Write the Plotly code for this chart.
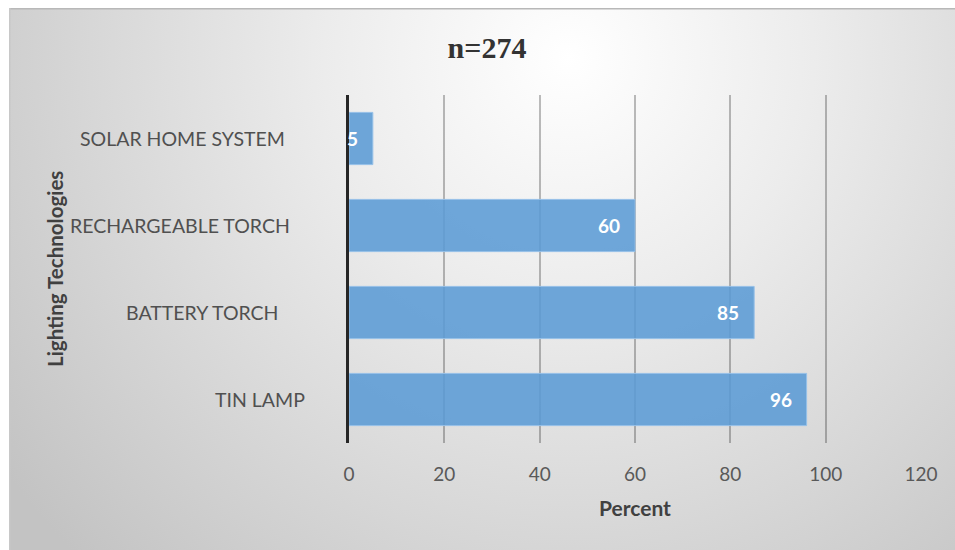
import base64
import plotly.graph_objects as go

# Survey results: share of households using each lighting technology
categories = ["SOLAR HOME SYSTEM", "RECHARGEABLE TORCH", "BATTERY TORCH", "TIN LAMP"]
percent = [5, 60, 85, 96]
x_ticks = [0, 20, 40, 60, 80, 100, 120]
sample_title = "n=274"

# Horizontal gap (px) between the plot edge and each category label
label_gap = [62, 57, 68, 42]

W, H = 955, 550
L, R, T, B = 349, 34, 95, 107
pw, ph = W - L - R, H - T - B

# Soft radial backdrop behind the whole chart
bg_w, bg_h = W - 9, H - 8
svg = (
    f'<svg xmlns="http://www.w3.org/2000/svg" width="{bg_w}" height="{bg_h}" '
    f'viewBox="0 0 {bg_w} {bg_h}" preserveAspectRatio="none">'
    '<defs><radialGradient id="g" gradientUnits="userSpaceOnUse" cx="560" cy="50" r="700">'
    '<stop offset="0" stop-color="#ffffff"/>'
    '<stop offset="0.35" stop-color="#ececec"/>'
    '<stop offset="0.7" stop-color="#d6d6d6"/>'
    '<stop offset="1" stop-color="#c3c3c3"/>'
    '</radialGradient></defs>'
    f'<rect width="{bg_w}" height="{bg_h}" fill="url(#g)"/>'
    f'<line x1="0" y1="0.75" x2="{bg_w}" y2="0.75" stroke="#b8b8b8" stroke-width="1.5"/>'
    f'<line x1="0.75" y1="0" x2="0.75" y2="{bg_h}" stroke="#c8c8c8" stroke-width="1.5"/>'
    '</svg>'
)
bg_uri = "data:image/svg+xml;base64," + base64.b64encode(svg.encode()).decode()

fig = go.Figure(
    go.Bar(
        x=percent,
        y=categories,
        orientation="h",
        marker=dict(color="rgba(91,155,213,0.88)",
                    line=dict(color="rgba(150,192,232,1)", width=1)),
        width=0.6,
        hoverinfo="skip",
    )
)

# Value labels at the inner end of each bar
for cat, val in zip(categories, percent):
    fig.add_annotation(
        x=val, y=cat, xref="x", yref="y", text=f"<b>{val}</b>",
        showarrow=False, xanchor="right", yanchor="middle", xshift=-13,
        font=dict(family="Lato", size=19, color="white"),
    )

# Category labels left of the axis
for cat, gap in zip(categories, label_gap):
    fig.add_annotation(
        x=0, y=cat, xref="paper", yref="y", text=cat,
        showarrow=False, xanchor="right", yanchor="middle", xshift=-gap,
        font=dict(family="Lato", size=19.5, color="#505050"),
    )

# Axis titles
fig.add_annotation(
    x=(55 - L) / pw, y=0.5, xref="paper", yref="paper",
    text="<b>Lighting Technologies</b>", textangle=-90, showarrow=False,
    xanchor="center", yanchor="middle",
    font=dict(family="Lato", size=20.5, color="#404040"),
)
fig.add_annotation(
    x=0.5, y=(H - B - 507) / ph, xref="paper", yref="paper",
    text="<b>Percent</b>", showarrow=False,
    xanchor="center", yanchor="middle",
    font=dict(family="Lato", size=21, color="#404040"),
)

fig.add_layout_image(
    source=bg_uri, xref="paper", yref="paper",
    x=(9 - L) / pw, y=(H - B - 8) / ph,
    sizex=bg_w / pw, sizey=bg_h / ph,
    xanchor="left", yanchor="top", sizing="stretch", layer="below",
)

fig.update_layout(
    width=W, height=H,
    margin=dict(l=L, r=R, t=T, b=B, pad=0),
    paper_bgcolor="white",
    plot_bgcolor="rgba(0,0,0,0)",
    showlegend=False,
    title=dict(
        text=f"<b>{sample_title}</b>", x=487 / W, xref="container", xanchor="center",
        y=1 - 47 / H, yref="container", yanchor="middle",
        font=dict(family="Liberation Serif", size=30, color="#333333"),
    ),
    xaxis=dict(
        range=[0, 120], tickvals=x_ticks, ticktext=[str(v) for v in x_ticks],
        showgrid=True, gridcolor="rgba(0,0,0,0.26)", gridwidth=1.5,
        zeroline=False, showline=False, ticks="",
        ticklabelstandoff=18,
        tickfont=dict(family="Lato", size=19, color="#595959"),
        fixedrange=True,
    ),
    yaxis=dict(
        categoryorder="array", categoryarray=categories,
        autorange="reversed", showticklabels=False, showgrid=False,
        zeroline=False, showline=True, linecolor="#262626", linewidth=3,
        ticks="", fixedrange=True,
    ),
)

fig.write_html("out.html", config={"displayModeBar": False})
